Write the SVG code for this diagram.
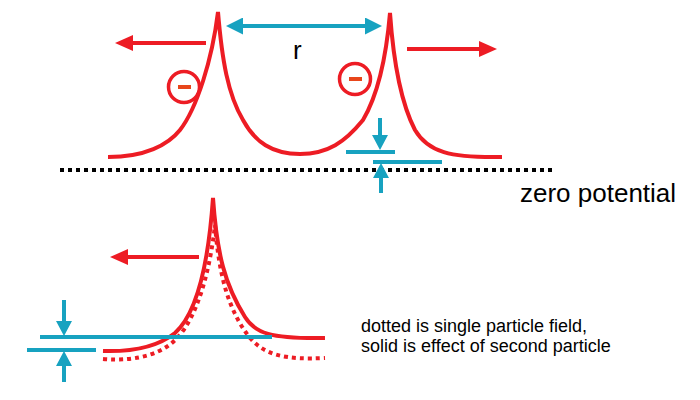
<svg xmlns="http://www.w3.org/2000/svg" width="700" height="400" viewBox="0 0 700 400">
<style>
.red{fill:none;stroke:#ed1c24;stroke-width:4;stroke-linecap:butt}
.cyan{fill:none;stroke:#17a2c0;stroke-width:4}
.dots{fill:none;stroke:#000;stroke-width:4;stroke-dasharray:4 4}
.reddots{fill:none;stroke:#ed1c24;stroke-width:4;stroke-dasharray:4 4}
.lbl{font-family:"Liberation Sans",Arial,sans-serif;fill:#000}
.ring{fill:none;stroke:#ed1c24;stroke-width:3.5}
.minus{stroke:#e8461b;stroke-width:4}
</style>
<defs>
<marker id="ahRed" markerUnits="userSpaceOnUse" markerWidth="18" markerHeight="16" refX="8" refY="8" orient="auto-start-reverse"><path d="M0,0 L18,8 L0,16 z" fill="#ed1c24"/></marker>
<marker id="ahCyan" markerUnits="userSpaceOnUse" markerWidth="17" markerHeight="17" refX="7" refY="8.5" orient="auto-start-reverse"><path d="M0,0 L17,8.5 L0,17 z" fill="#17a2c0"/></marker>
<marker id="ahCyanS" markerUnits="userSpaceOnUse" markerWidth="15" markerHeight="16" refX="5" refY="8" orient="auto-start-reverse"><path d="M0,0 L15,8 L0,16 z" fill="#17a2c0"/></marker>
</defs>
<g id="zero-line">
<path class="dots" d="M60,170 L556,170"/>
<text class="lbl" x="520" y="202" font-size="26">zero potential</text>
</g>
<g id="top-potential">
<path class="red" d="M108,157 C145,157 168,145 180,130 C197,108 212,60 218,12 C222,60 228,95 243,120 C255,142 272,154 300,154 C328,154 345,142 363,120 C376,98 386,60 390,13 C394,70 402,105 415,130 C428,152 450,158 502,157"/>
</g>
<g id="particle-left">
<circle class="ring" cx="184" cy="87" r="15.5"/>
<path class="minus" d="M178,87 L191,87"/>
</g>
<g id="particle-right">
<circle class="ring" cx="355" cy="79" r="15.5"/>
<path class="minus" d="M349,79 L362,79"/>
</g>
<g id="label-r">
<text class="lbl" x="293" y="59" font-size="26">r</text>
</g>
<g id="bottom-potential">
<path class="red" d="M103,351 C135,352 160,345 175,333 C195,315 208,270 213,198 C217,255 225,285 245,317 C255,333 270,339 325,338"/>
<path class="reddots" d="M103,359 C140,362 165,352 178,337 C198,315 210,270 215,225 C219,275 228,310 250,338 C265,355 285,360 325,358"/>
</g>
<g id="caption">
<text class="lbl" x="361" y="332" font-size="18">dotted is single particle field,</text>
<text class="lbl" x="361" y="352" font-size="18">solid is effect of second particle</text>
</g>
<g id="connectors">
<path class="red" d="M206,43 L125,43" marker-end="url(#ahRed)"/>
<path class="red" d="M407,49 L487,49" marker-end="url(#ahRed)"/>
<path class="cyan" d="M236,26 L372,26" marker-start="url(#ahCyan)" marker-end="url(#ahCyan)"/>
<path class="cyan" d="M380,118 L380,140" marker-end="url(#ahCyanS)"/>
<path class="cyan" d="M346,152 L395,152"/>
<path class="cyan" d="M373,162 L442,162"/>
<path class="cyan" d="M381,193 L381,173" marker-end="url(#ahCyanS)"/>
<path class="red" d="M199,257 L120,257" marker-end="url(#ahRed)"/>
<path class="cyan" d="M40,337 L272,337"/>
<path class="cyan" d="M27,350 L96,350"/>
<path class="cyan" d="M64,300 L64,326" marker-end="url(#ahCyanS)"/>
<path class="cyan" d="M64,382 L64,361" marker-end="url(#ahCyanS)"/>
</g>
</svg>
